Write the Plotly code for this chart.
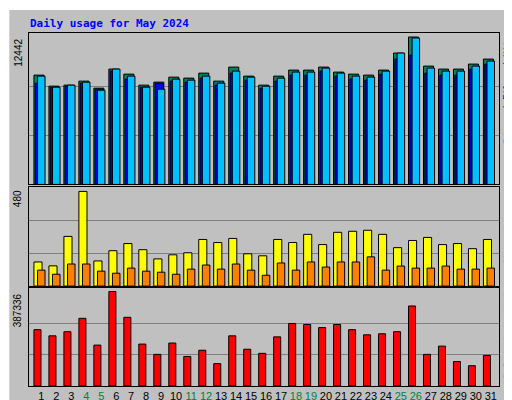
import plotly.graph_objects as go

days = list(range(1, 32))
hits = [9226,8295,8379,8718,8125,9734,9310,8379,8633,9056,8972,9395,8718,9903,9141,8379,9141,9649,9649,9903,9480,9310,9226,9649,11088,12442,9987,9734,9734,10157,10580]
files = [8550,8200,8300,8550,8050,9560,8890,8210,8550,8720,8630,8970,8380,9390,8800,8120,8720,9220,9220,9560,9140,8890,8800,9300,10580,10920,9390,9220,9220,9730,10150]
pages = [9141,8210,8379,8633,7955,9734,9141,8210,8040,8887,8803,9141,8548,9564,9056,8294,8971,9480,9480,9818,9395,9141,9056,9564,11088,12357,9818,9564,9564,9987,10410]
visits = [118,99,243,463,123,173,208,178,133,153,163,228,213,233,158,148,228,213,253,203,263,268,273,253,188,223,238,203,208,183,228]
sites = [78,58,108,108,73,63,88,73,68,58,83,103,83,108,78,53,113,78,118,93,118,118,143,78,98,88,88,98,83,83,88]
kbytes = [231000,205700,222600,277500,167700,387336,281700,171900,129700,176100,121200,146600,91700,205700,150800,133900,201500,256400,252200,239500,252200,231000,209900,214200,222600,328200,129700,163500,100100,83200,125500]
weekend = [4,5,11,12,18,19,25,26]
tick_labels = [f"<span style='color:#008040'>{d}</span>" if d in weekend else str(d) for d in days]

line = dict(color="black", width=1)
fig = go.Figure()
fig.add_bar(x=days, y=hits, width=0.67, offset=-0.49, marker=dict(color="#00805c", line=line), yaxis="y")
fig.add_bar(x=days, y=files, width=0.55, offset=-0.4, marker=dict(color="#0000ff", line=line), yaxis="y")
fig.add_bar(x=days, y=pages, width=0.5, offset=-0.25, marker=dict(color="#00c0ff", line=line), yaxis="y")
fig.add_bar(x=days, y=visits, width=0.54, offset=-0.49, marker=dict(color="#ffff00", line=line), xaxis="x2", yaxis="y2")
fig.add_bar(x=days, y=sites, width=0.5, offset=-0.25, marker=dict(color="#ff8000", line=line), xaxis="x2", yaxis="y2")
fig.add_bar(x=days, y=kbytes, width=0.47, offset=-0.49, marker=dict(color="#ff0000", line=line), xaxis="x3", yaxis="y3")

xcommon = dict(range=[0.18, 31.55], showgrid=False, zeroline=False, showline=True, linecolor="black", linewidth=1,
               mirror=True, ticks="", fixedrange=True, automargin=False)
ycommon = dict(showgrid=True, gridcolor="#808080", gridwidth=1, zeroline=False, showline=True, linecolor="black",
               linewidth=1, mirror=True, showticklabels=False, ticks="", automargin=False)

fig.update_layout(
    width=512, height=400, barmode="overlay", showlegend=False,
    paper_bgcolor="#c0c0c0", plot_bgcolor="#c0c0c0",
    margin=dict(l=21, r=21, t=25, b=22, autoexpand=False),
    font=dict(family="DejaVu Sans Mono", size=11, color="black"),
    xaxis=dict(**xcommon, anchor="y", showticklabels=False, matches="x3"),
    xaxis2=dict(**xcommon, anchor="y2", showticklabels=False, matches="x3"),
    xaxis3=dict(**xcommon, anchor="y3", tickvals=days, ticktext=tick_labels, tickangle=0,
                tickfont=dict(size=11, family="Liberation Sans")),
    yaxis=dict(**ycommon, domain=[0.571, 1.0], range=[0, 12780], tickvals=[4147, 8295]),
    yaxis2=dict(**ycommon, domain=[0.283, 0.564], range=[0, 485], tickvals=[160, 320]),
    yaxis3=dict(**ycommon, domain=[0.0, 0.277], range=[0, 401000], tickvals=[129112, 258224]),
)

fig.add_annotation(text="<b>Daily usage for May 2024</b>", xref="paper", yref="paper", x=-0.002, y=1.028,
                   xanchor="left", yanchor="middle", showarrow=False,
                   font=dict(size=11, color="#0000ff", family="DejaVu Sans Mono"))
for txt, ax, yv in [("12442", "y", 12442), ("480", "y2", 480), ("387336", "y3", 387336)]:
    fig.add_annotation(text=txt, xref="paper", yref=ax, x=-0.008, y=yv, xanchor="right", yanchor="top",
                       textangle=-90, showarrow=False, font=dict(size=10, family="Liberation Sans"))
fig.add_annotation(text="<span style='color:#00c0ff'>Pages</span> / <span style='color:#0000ff'>Files</span> / <span style='color:#00805c'>Hits</span>",
                   xref="paper", yref="paper", x=1.003, y=1.0, xanchor="left", yanchor="top", textangle=-90,
                   showarrow=False, font=dict(size=9, family="DejaVu Sans Mono"))
fig.add_annotation(text="<span style='color:#ff0000'>kB F</span> / <span style='color:#0000ff'>kB In</span> / <span style='color:#008060'>kB Out</span> <span style='color:#ff8000'>Sites</span> / <span style='color:#ffff00'>Visits</span>",
                   xref="paper", yref="paper", x=1.003, y=0.0, xanchor="left", yanchor="bottom", textangle=-90,
                   showarrow=False, font=dict(size=9, family="DejaVu Sans Mono"))

fig.add_shape(type="rect", xref="paper", yref="paper", x0=-0.044, x1=1.044, y0=-0.06, y1=1.068,
              line=dict(color="white", width=2), fillcolor="rgba(0,0,0,0)")
fig.write_html("out.html")
